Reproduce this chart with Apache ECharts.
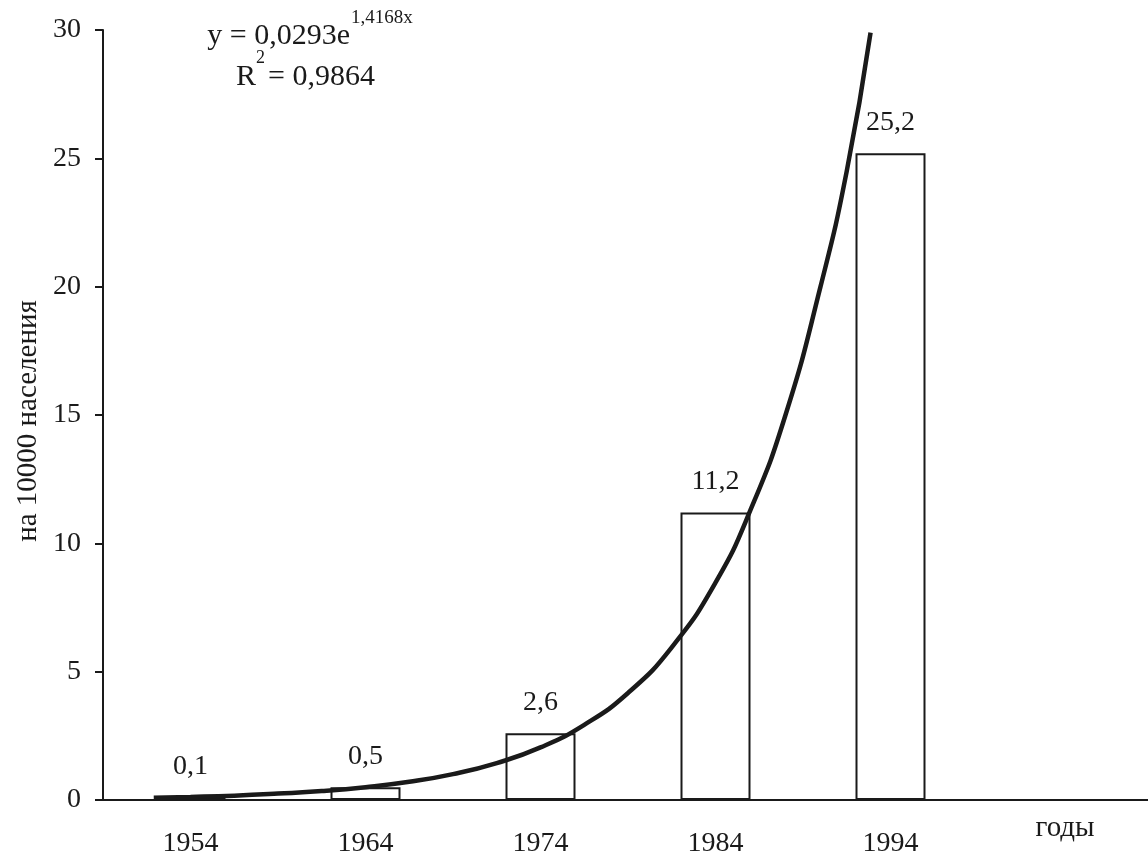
<!DOCTYPE html>
<html>
<head>
<meta charset="utf-8">
<script src="https://cdn.jsdelivr.net/npm/echarts@6/dist/echarts.min.js"></script>
<style>
html, body { margin: 0; padding: 0; background: #fff; }
#chart { width: 1148px; height: 856px; }
</style>
</head>
<body>
<div id="chart"></div>
<script>
// categories (last one is the empty slot on the right)
var years = ['1954', '1964', '1974', '1984', '1994', ''];
// values per 10000 population
var rates = [0.1, 0.5, 2.6, 11.2, 25.2];
// trend curve, x in category steps from 1954
var trendX = [-0.21, 0, 0.25, 0.5, 0.75, 1, 1.25, 1.5, 1.75, 2, 2.25, 2.5, 2.75, 3, 3.2, 3.4, 3.6, 3.75, 3.886];
var trendY = [0.09, 0.12, 0.17, 0.25, 0.35, 0.50, 0.71, 1.01, 1.44, 2.05, 2.93, 4.17, 5.95, 8.47, 11.3, 15.0, 20.0, 24.5, 29.9];
var yMin = 0, yMax = 30, yStep = 5;

var font = 'Liberation Serif';
var ink = '#1a1a1a';

var trend = [];
for (var i = 0; i < trendX.length; i++) {
    trend.push([trendX[i], trendY[i]]);
}

var dom = document.getElementById('chart');
var myChart = echarts.init(dom);
var option = {
    animation: false,
    backgroundColor: '#fff',
    grid: { left: 103, top: 30, width: 1050, height: 770, containLabel: false, outerBoundsMode: 'none' },
    xAxis: [
        {
            type: 'category',
            data: years,
            boundaryGap: true,
            axisLine: { lineStyle: { color: ink, width: 2 } },
            axisTick: { length: 10, lineStyle: { color: ink, width: 2 } },
            axisLabel: { color: ink, fontFamily: font, fontSize: 28, margin: 30 },
            splitLine: { show: false }
        },
        {
            type: 'value',
            min: -0.5,
            max: 5.5,
            show: false
        }
    ],
    yAxis: {
        type: 'value',
        min: yMin,
        max: yMax,
        interval: yStep,
        axisLine: { show: true, onZero: false, lineStyle: { color: ink, width: 2 } },
        axisTick: { show: true, length: 8, lineStyle: { color: ink, width: 2 } },
        axisLabel: { color: ink, fontFamily: font, fontSize: 28, margin: 22 },
        splitLine: { show: false }
    },
    series: [
        {
            type: 'bar',
            data: rates,
            barWidth: '40%',
            itemStyle: { color: '#fff', borderColor: ink, borderWidth: 2 },
            label: {
                show: true,
                position: 'top',
                distance: 17,
                color: ink,
                fontFamily: font,
                fontSize: 28,
                formatter: function (p) { return String(p.value).replace('.', ','); }
            },
            z: 2
        },
        {
            type: 'line',
            xAxisIndex: 1,
            data: trend,
            smooth: true,
            showSymbol: false,
            lineStyle: { color: ink, width: 4.5 },
            z: 3
        }
    ],
    graphic: [
        { type: 'text', x: 350, y: 36, style: { text: 'y = 0,0293e', fill: ink, font: '30px "' + font + '"', textAlign: 'right', textVerticalAlign: 'middle' } },
        { type: 'text', x: 351, y: 18, style: { text: '1,4168x', fill: ink, font: '19px "' + font + '"', textAlign: 'left', textVerticalAlign: 'middle' } },
        { type: 'text', x: 236, y: 77, style: { text: 'R', fill: ink, font: '30px "' + font + '"', textAlign: 'left', textVerticalAlign: 'middle' } },
        { type: 'text', x: 256, y: 58, style: { text: '2', fill: ink, font: '18px "' + font + '"', textAlign: 'left', textVerticalAlign: 'middle' } },
        { type: 'text', x: 268, y: 77, style: { text: '= 0,9864', fill: ink, font: '30px "' + font + '"', textAlign: 'left', textVerticalAlign: 'middle' } },
        { type: 'text', x: 28, y: 421, rotation: Math.PI / 2, style: { text: 'на 10000 населения', fill: ink, font: '29px "' + font + '"', textAlign: 'center', textVerticalAlign: 'middle' } },
        { type: 'text', x: 1065, y: 828, style: { text: 'годы', fill: ink, font: '29px "' + font + '"', textAlign: 'center', textVerticalAlign: 'middle' } }
    ]
};
if (option && typeof option === 'object') {
    myChart.setOption(option);
}
</script>
</body>
</html>
